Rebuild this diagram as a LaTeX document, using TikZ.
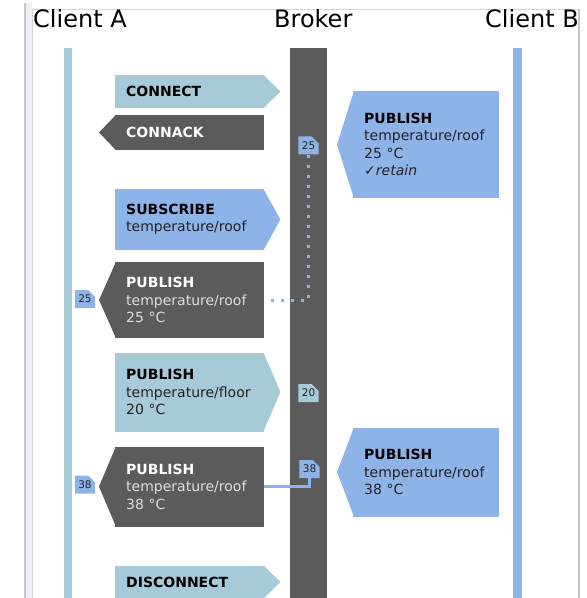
\documentclass[tikz,border=0pt]{standalone}
\usepackage{fontspec}
\setmainfont{DejaVu Sans}
\usetikzlibrary{shapes.misc}

\definecolor{lightblue}{RGB}{167,202,216}
\definecolor{midblue}{RGB}{142,179,233}
\definecolor{brokergray}{RGB}{91,91,91}
\definecolor{softtext}{RGB}{222,222,222}
\definecolor{inktext}{RGB}{34,34,34}
\definecolor{framedark}{RGB}{196,199,204}
\definecolor{framelight}{RGB}{213,215,219}
\definecolor{frameband}{RGB}{240,241,244}

\tikzset{
  msg/.style={rectangle, inner xsep=11bp, inner ysep=0pt, anchor=west, align=left,
    font=\fontsize{14bp}{17.5bp}\selectfont},
  leftcol/.style={text width=127bp, minimum width=149bp},
  rightcol/.style={text width=124bp, minimum width=146bp},
  lightmsg/.style={msg, fill=lightblue, text=black, execute at begin node=\colorlet{detail}{inktext}},
  bluemsg/.style={msg, fill=midblue, text=black, execute at begin node=\colorlet{detail}{inktext}},
  darkmsg/.style={msg, fill=brokergray, text=white, execute at begin node=\colorlet{detail}{softtext}},
  doc/.style={chamfered rectangle, chamfered rectangle corners=north east,
    chamfered rectangle xsep=3.5bp, inner sep=0pt, minimum width=16bp, minimum height=18bp,
    font=\fontsize{10.5bp}{11bp}\selectfont, text=inktext},
  head/.style={anchor=base west, inner sep=0pt, font=\fontsize{24bp}{28bp}\selectfont},
}

\begin{document}
\begin{tikzpicture}[x=1bp, y=-1bp]
    \useasboundingbox (0,0) rectangle (587,598);

    % Frame
    \fill[frameband] (26,3) rectangle (32,598);
    \draw[framedark, line width=2bp] (25,3) -- (25,598);
    \draw[framelight, line width=1bp] (32,598) -- (32,9.5) -- (578,9.5);
    \draw[framedark, line width=1.5bp] (579,9) -- (579,598);

    \begin{scope}
        \clip (32.5,10) rectangle (578.2,598);

        % Headers
        \node[head] (hA) at (33,28) {Client A};
        \node[head] (hBroker) at (274,28) {Broker};
        \node[head] (hB) at (485,28) {Client B};

        % Lifelines
        \fill[lightblue] (64,48) rectangle (71.5,598);
        \fill[brokergray] (289.5,48) rectangle (326.5,598);
        \fill[midblue] (513.3,48) rectangle (521.5,598);

        % Client A <-> Broker
        \node[lightmsg, leftcol, minimum height=33bp] (connect) at (115,91.5) {\textbf{CONNECT}};
        \node[darkmsg, leftcol, minimum height=35bp] (connack) at (115,132.5) {\textbf{CONNACK}};
        \node[bluemsg, leftcol, minimum height=61bp] (subscribe) at (115,219.5)
            {\textbf{SUBSCRIBE}\\\textcolor{detail}{temperature/roof}};
        \node[darkmsg, leftcol, minimum height=76bp] (pubA1) at (115,300)
            {\textbf{PUBLISH}\\\textcolor{detail}{temperature/roof\\25 °C}};
        \node[lightmsg, leftcol, minimum height=79bp] (floor) at (115,392)
            {\textbf{PUBLISH}\\\textcolor{detail}{temperature/floor\\20 °C}};
        \node[darkmsg, leftcol, minimum height=80bp] (pubA2) at (115,486.5)
            {\textbf{PUBLISH}\\\textcolor{detail}{temperature/roof\\38 °C}};
        \node[lightmsg, leftcol, minimum height=33bp] (disconnect) at (115,582) {\textbf{DISCONNECT}};

        % Client B -> Broker
        \node[bluemsg, rightcol, minimum height=107bp] (retainB) at (353,144.5)
            {\textbf{PUBLISH}\\\textcolor{detail}{temperature/roof\\25 °C\\✓\textit{retain}}};
        \node[bluemsg, rightcol, minimum height=89bp] (pubB) at (353,472)
            {\textbf{PUBLISH}\\\textcolor{detail}{temperature/roof\\38 °C}};

        % Arrow tips
        \foreach \n/\c in {connect/lightblue, subscribe/midblue, floor/lightblue, disconnect/lightblue} {
            \fill[\c] ([xshift=-1bp]\n.north east) -- ([xshift=16bp]\n.east) -- ([xshift=-1bp]\n.south east) -- cycle;
        }
        \foreach \n/\c in {connack/brokergray, pubA1/brokergray, pubA2/brokergray, retainB/midblue, pubB/midblue} {
            \fill[\c] ([xshift=1bp]\n.north west) -- ([xshift=-16bp]\n.west) -- ([xshift=1bp]\n.south west) -- cycle;
        }

        % Stored messages
        \node[doc, fill=midblue] (b25) at (308.5,145.5) {25};
        \node[doc, fill=lightblue] (b20) at (308.5,393) {20};
        \node[doc, fill=midblue] (b38) at (309.5,469) {38};
        \node[doc, fill=midblue] (a25) at (85,299) {25};
        \node[doc, fill=midblue] (a38) at (85,484.5) {38};

        % Retained and forwarded
        \draw[midblue, line width=3bp, dash pattern=on 3bp off 7bp, shorten >=5bp] (b25.south) |- (pubA1.east);
        \draw[midblue, line width=3bp] (b38.south) |- (pubA2.east);
    \end{scope}
\end{tikzpicture}
\end{document}
